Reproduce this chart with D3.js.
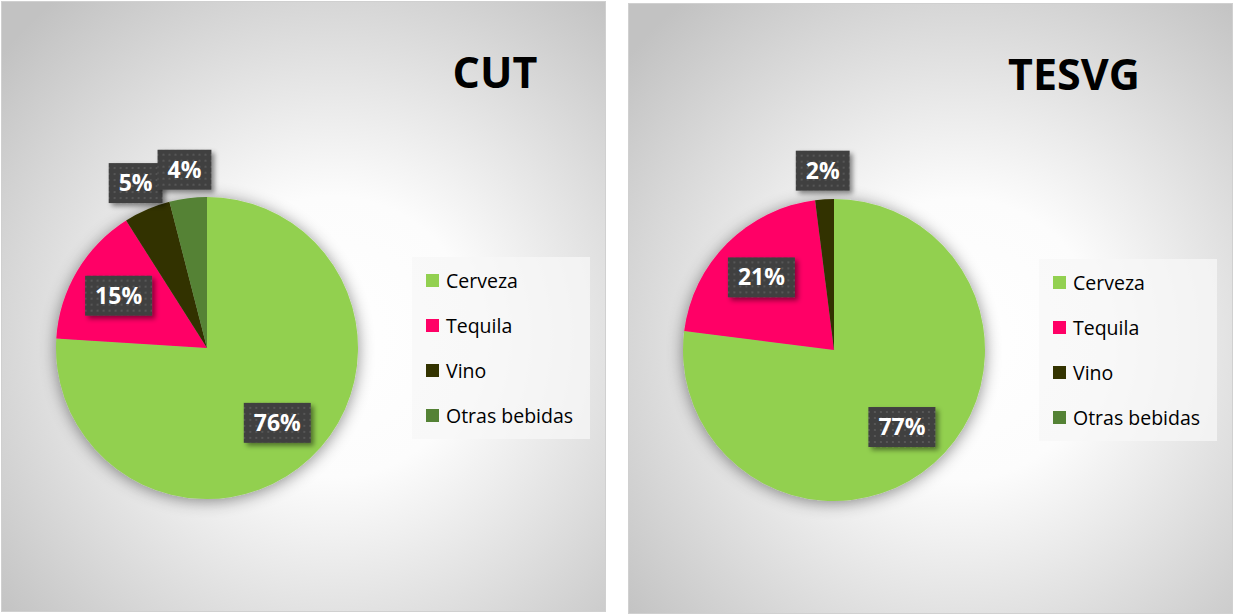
<!DOCTYPE html>
<html>
<head>
<meta charset="utf-8">
<script src="https://cdn.jsdelivr.net/npm/d3@7"></script>
<style>
  html, body { margin: 0; padding: 0; background: #ffffff; }
  svg { display: block; }
</style>
</head>
<body>
<svg id="svg" width="1234" height="614"></svg>
<script>
// data
const categories = ["Cerveza", "Tequila", "Vino", "Otras bebidas"];
const sliceColors = ["#92d050", "#ff0066", "#333300", "#548235"];
const chartTitles = ["CUT", "TESVG"];
const cutShares = [76, 15, 5, 4];
const tesvgShares = [77, 21, 2, 0];

// layout of the two chart panels
const panels = [
  { x: 1, y: 1, w: 605, h: 611, titleX: 494, shares: cutShares, title: chartTitles[0] },
  { x: 628, y: 3, w: 605, h: 611, titleX: 446, shares: tesvgShares, title: chartTitles[1] },
];

const radius = 151;
const pieCx = 206;
const pieCy = 347;
const font = "'Open Sans', 'DejaVu Sans', sans-serif";

let svg = d3.select("#svg");
let defs = svg.append("defs");

let bg = defs
  .append("radialGradient")
  .attr("id", "bgGrad")
  .attr("cx", "55%")
  .attr("cy", "55%")
  .attr("r", "72%");
bg.append("stop").attr("offset", "0%").attr("stop-color", "#ffffff");
bg.append("stop").attr("offset", "32%").attr("stop-color", "#fcfcfc");
bg.append("stop").attr("offset", "100%").attr("stop-color", "#c2c2c2");

let pieShadow = defs
  .append("filter")
  .attr("id", "pieShadow")
  .attr("x", "-20%")
  .attr("y", "-20%")
  .attr("width", "140%")
  .attr("height", "140%");
pieShadow
  .append("feDropShadow")
  .attr("dx", 0)
  .attr("dy", 2)
  .attr("stdDeviation", 8)
  .attr("flood-color", "#000")
  .attr("flood-opacity", 0.45);

let boxShadow = defs
  .append("filter")
  .attr("id", "boxShadow")
  .attr("x", "-30%")
  .attr("y", "-30%")
  .attr("width", "160%")
  .attr("height", "160%");
boxShadow
  .append("feDropShadow")
  .attr("dx", 3)
  .attr("dy", 3)
  .attr("stdDeviation", 2.5)
  .attr("flood-color", "#000")
  .attr("flood-opacity", 0.45);

let dots = defs
  .append("pattern")
  .attr("id", "dots")
  .attr("width", 6)
  .attr("height", 6)
  .attr("patternUnits", "userSpaceOnUse");
dots.append("rect").attr("width", 6).attr("height", 6).attr("fill", "#404040");
dots
  .append("rect")
  .attr("x", 2)
  .attr("y", 2)
  .attr("width", 2)
  .attr("height", 2)
  .attr("fill", "#565656");

let pie = d3
  .pie()
  .sort(null)
  .value((d) => d.value);

let arc = d3.arc().innerRadius(0).outerRadius(radius);
let innerLabelArc = d3
  .arc()
  .innerRadius(radius * 0.68)
  .outerRadius(radius * 0.68);
let outerLabelArc = d3
  .arc()
  .innerRadius(radius * 1.19)
  .outerRadius(radius * 1.19);

let legendY = d3
  .scalePoint()
  .domain(categories)
  .range([24, 159]);

panels.forEach(function (p) {
  let g = svg.append("g").attr("transform", `translate(${p.x},${p.y})`);

  g.append("rect")
    .attr("x", 0.5)
    .attr("y", 0.5)
    .attr("width", p.w - 1)
    .attr("height", p.h - 1)
    .attr("fill", "url(#bgGrad)")
    .attr("stroke", "#d0d0d0")
    .attr("stroke-width", 1);

  g.append("text")
    .attr("x", p.titleX)
    .attr("y", 87)
    .attr("text-anchor", "middle")
    .attr("font-family", font)
    .attr("font-weight", "bold")
    .attr("font-size", 43)
    .attr("fill", "#000")
    .text(p.title);

  let data = categories.map((c, i) => ({ name: c, value: p.shares[i], color: sliceColors[i] }));
  let arcs = pie(data);

  let pieG = g.append("g").attr("transform", `translate(${pieCx},${pieCy})`);

  pieG
    .append("g")
    .attr("filter", "url(#pieShadow)")
    .selectAll("path")
    .data(arcs.filter((d) => d.data.value > 0))
    .join("path")
    .attr("d", arc)
    .attr("fill", (d) => d.data.color);

  // data labels, small slices get theirs outside the pie
  arcs
    .filter((d) => d.data.value > 0)
    .forEach(function (d) {
      let pos = d.data.value >= 10 ? innerLabelArc.centroid(d) : outerLabelArc.centroid(d);
      let lg = pieG.append("g").attr("transform", `translate(${pos[0]},${pos[1]})`);
      let box = lg.append("rect").attr("fill", "url(#dots)").attr("filter", "url(#boxShadow)");
      let t = lg
        .append("text")
        .attr("text-anchor", "middle")
        .attr("y", 8)
        .attr("font-family", font)
        .attr("font-weight", "bold")
        .attr("font-size", 23)
        .attr("fill", "#ffffff")
        .text(d.data.value + "%");
      let w = t.node().getComputedTextLength() + 20;
      box
        .attr("x", -w / 2)
        .attr("y", -20)
        .attr("width", w)
        .attr("height", 40);
    });

  // legend
  let leg = g.append("g").attr("transform", "translate(411,256)");
  leg.append("rect")
    .attr("width", 178)
    .attr("height", 182)
    .attr("fill", "#f7f7f7")
    .attr("fill-opacity", 0.75);

  let items = leg
    .selectAll("g.item")
    .data(data)
    .join("g")
    .attr("class", "item")
    .attr("transform", (d) => `translate(14,${legendY(d.name)})`);

  items
    .append("rect")
    .attr("x", 0)
    .attr("y", -7)
    .attr("width", 13)
    .attr("height", 13)
    .attr("fill", (d) => d.color);

  items
    .append("text")
    .attr("x", 20)
    .attr("y", 7)
    .attr("font-family", font)
    .attr("font-size", 19.5)
    .attr("fill", "#000")
    .text((d) => d.name);
});
</script>
</body>
</html>
